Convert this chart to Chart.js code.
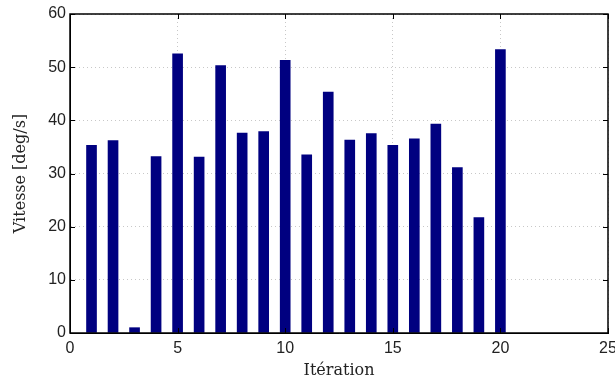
<!DOCTYPE html>
<html>
<head>
<meta charset="utf-8">
<script src="https://cdn.jsdelivr.net/npm/chart.js@4/dist/chart.umd.min.js"></script>
<style>
  html, body { margin: 0; padding: 0; background: #fff; }
  #wrap { width: 615px; height: 386px; }
</style>
</head>
<body>
<div id="wrap"><canvas id="graphe"></canvas></div>
<script>
// itérations et vitesse mesurée
const iterations = [1, 2, 3, 4, 5, 6, 7, 8, 9, 10, 11, 12, 13, 14, 15, 16, 17, 18, 19, 20];
const vitesses = [35.3, 36.2, 1.0, 33.2, 52.5, 33.1, 50.3, 37.6, 37.9, 51.3,
                  33.5, 45.3, 36.3, 37.5, 35.3, 36.5, 39.3, 31.1, 21.7, 53.3];
const xTicks = [0, 5, 10, 15, 20, 25];
const yTicks = [0, 10, 20, 30, 40, 50, 60];

const points = iterations.map((it, i) => ({ x: it, y: vitesses[i] }));

// cadre noir + petites graduations vers l'intérieur (style matlab)
const cadre = {
    id: 'cadre',
    afterDatasetsDraw(chart) {
        const { ctx, chartArea: a, scales: { x, y } } = chart;
        const tl = 5;
        ctx.save();
        ctx.strokeStyle = '#000';
        ctx.lineWidth = 1;
        ctx.beginPath();
        xTicks.forEach(v => {
            const px = Math.round(x.getPixelForValue(v)) + 0.5;
            ctx.moveTo(px, a.bottom); ctx.lineTo(px, a.bottom - tl);
            ctx.moveTo(px, a.top); ctx.lineTo(px, a.top + tl);
        });
        yTicks.forEach(v => {
            const py = Math.round(y.getPixelForValue(v)) + 0.5;
            ctx.moveTo(a.left, py); ctx.lineTo(a.left + tl, py);
            ctx.moveTo(a.right, py); ctx.lineTo(a.right - tl, py);
        });
        ctx.stroke();
        ctx.lineWidth = 1.5;
        ctx.strokeRect(a.left, a.top, a.right - a.left, a.bottom - a.top);
        ctx.restore();
    }
};

const grille = {
    color: '#c8c8c8',
    lineWidth: 1,
    drawTicks: false
};

new Chart(document.getElementById('graphe'), {
    type: 'bar',
    data: {
        datasets: [{
            data: points,
            backgroundColor: '#000080',
            borderWidth: 0,
            barThickness: 10
        }]
    },
    options: {
        responsive: true,
        maintainAspectRatio: false,
        animation: false,
        events: [],
        layout: { padding: { top: 14, right: 7, left: 0, bottom: 0 } },
        plugins: { legend: { display: false }, tooltip: { enabled: false } },
        scales: {
            x: {
                type: 'linear',
                min: 0,
                max: 25,
                offset: false,
                afterBuildTicks: s => { s.ticks = xTicks.map(v => ({ value: v })); },
                afterFit: s => { s.height = 53; s.paddingLeft = 0; s.paddingRight = 0; },
                grid: { ...grille, offset: false },
                border: { display: true, color: '#000', dash: [1, 3] },
                ticks: {
                    padding: 6,
                    color: '#222',
                    font: { family: 'Liberation Sans', size: 16 }
                },
                title: {
                    display: true,
                    text: 'Itération',
                    color: '#222',
                    padding: { top: 0, bottom: 6 },
                    font: { family: 'DejaVu Serif', size: 16 }
                }
            },
            y: {
                min: 0,
                max: 60,
                afterBuildTicks: s => { s.ticks = yTicks.map(v => ({ value: v })); },
                afterFit: s => { s.width = 70; s.paddingTop = 0; s.paddingBottom = 0; },
                grid: grille,
                border: { display: true, color: '#000', dash: [1, 3] },
                ticks: {
                    padding: 4,
                    color: '#222',
                    font: { family: 'Liberation Sans', size: 16 }
                },
                title: {
                    display: true,
                    text: 'Vitesse [deg/s]',
                    color: '#222',
                    padding: { top: 11, bottom: 0 },
                    font: { family: 'DejaVu Serif', size: 16 }
                }
            }
        }
    },
    plugins: [cadre]
});
</script>
</body>
</html>
